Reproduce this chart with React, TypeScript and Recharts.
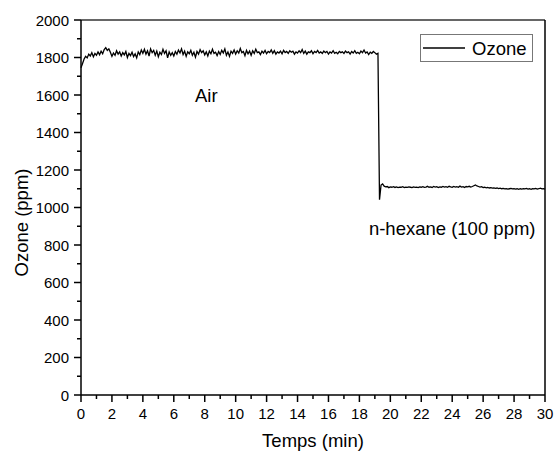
import {
	LineChart,
	Line,
	XAxis,
	YAxis,
	Legend,
	Label,
	ReferenceLine,
	ReferenceDot,
} from 'recharts'

// sampling step of the recorder, minutes
const STEP = 0.1

// ozone under air, from t = 0 to 19.2 min
const airOzone = [
	1745, 1768, 1792, 1806, 1798, 1818, 1808, 1826, 1804, 1822,
	1812, 1830, 1815, 1834, 1820, 1842, 1852, 1838, 1846, 1828,
	1806, 1824, 1812, 1836, 1818, 1830, 1808, 1826, 1814, 1832,
	1800, 1822, 1810, 1828, 1805, 1820, 1798, 1830, 1815, 1840,
	1822, 1844, 1818, 1836, 1808, 1846, 1826, 1838, 1812, 1834,
	1804, 1828, 1816, 1844, 1822, 1836, 1798, 1830, 1812, 1826,
	1808, 1832, 1818, 1840, 1824, 1846, 1816, 1834, 1806, 1830,
	1820, 1838, 1812, 1828, 1802, 1832, 1818, 1842, 1826, 1836,
	1814, 1830, 1808, 1834, 1820, 1844, 1822, 1828, 1810, 1832,
	1816, 1838, 1824, 1846, 1812, 1830, 1806, 1834, 1822, 1840,
	1818, 1836, 1824, 1848, 1826, 1832, 1810, 1838, 1820, 1834,
	1812, 1836, 1822, 1844, 1826, 1830, 1816, 1834, 1824, 1838,
	1820, 1832, 1826, 1840, 1822, 1836, 1818, 1830, 1824, 1834,
	1820, 1838, 1826, 1832, 1822, 1836, 1828, 1834, 1818, 1830,
	1824, 1836, 1826, 1842, 1822, 1834, 1818, 1830, 1826, 1836,
	1820, 1832, 1826, 1838, 1824, 1830, 1822, 1834, 1826, 1832,
	1818, 1830, 1824, 1836, 1822, 1828, 1820, 1832, 1826, 1830,
	1822, 1834, 1826, 1830, 1818, 1832, 1824, 1836, 1822, 1828,
	1820, 1834, 1826, 1840, 1824, 1830, 1816, 1828, 1822, 1832,
	1826, 1818, 1822,
]

// ozone with n-hexane, from t = 19.3 to 30 min
const hexaneOzone = [
	1042, 1120, 1126, 1114, 1110, 1112, 1106, 1110, 1108, 1111,
	1107, 1110, 1106, 1109, 1108, 1111, 1106, 1109, 1107, 1110,
	1108, 1106, 1110, 1107, 1109, 1106, 1110, 1108, 1111, 1107,
	1109, 1113, 1108, 1110, 1107, 1112, 1109, 1111, 1106, 1110,
	1108, 1112, 1109, 1111, 1108, 1113, 1110, 1108, 1112, 1109,
	1111, 1108, 1114, 1109, 1111, 1107, 1112, 1110, 1113, 1109,
	1112, 1116, 1120, 1115, 1112, 1109, 1111, 1106, 1108, 1105,
	1107, 1104, 1106, 1103, 1105, 1102, 1104, 1101, 1103, 1100,
	1102, 1099, 1101, 1098, 1100, 1102, 1099, 1101, 1098, 1100,
	1097, 1100, 1098, 1101, 1099, 1102, 1098, 1100, 1097, 1101,
	1099, 1102, 1098, 1100, 1103, 1099, 1101, 1098,
]

const xMajorTicks = [0, 2, 4, 6, 8, 10, 12, 14, 16, 18, 20, 22, 24, 26, 28, 30]
const xMinorTicks = [1, 3, 5, 7, 9, 11, 13, 15, 17, 19, 21, 23, 25, 27, 29]
const yMajorTicks = [0, 200, 400, 600, 800, 1000, 1200, 1400, 1600, 1800, 2000]
const yMinorTicks = [100, 300, 500, 700, 900, 1100, 1300, 1500, 1700, 1900]

const data = [
	...airOzone.map((ozone, i) => ({ temps: Math.round(i * STEP * 10) / 10, ozone })),
	...hexaneOzone.map((ozone, i) => ({
		temps: Math.round((19.3 + i * STEP) * 10) / 10,
		ozone,
	})),
]

const FONT = '"Liberation Sans", Arial, sans-serif'

const XTick = ({ x, y, payload }: any) => {
	const major = xMajorTicks.includes(payload.value)
	return (
		<g>
			<line x1={x} y1={y} x2={x} y2={y + (major ? 7 : 4)} stroke='#000' strokeWidth={1.5} />
			{major && (
				<text x={x} y={y + 24} textAnchor='middle' fontSize={15} fontFamily={FONT} fill='#000'>
					{payload.value}
				</text>
			)}
		</g>
	)
}

const YTick = ({ x, y, payload }: any) => {
	const major = yMajorTicks.includes(payload.value)
	return (
		<g>
			<line x1={x - (major ? 7 : 4)} y1={y} x2={x} y2={y} stroke='#000' strokeWidth={1.5} />
			{major && (
				<text x={x - 12} y={y + 5.5} textAnchor='end' fontSize={15} fontFamily={FONT} fill='#000'>
					{payload.value}
				</text>
			)}
		</g>
	)
}

const LegendBox = () => (
	<svg width={113} height={28}>
		<rect x={0.5} y={0.5} width={112} height={27} fill='#fff' stroke='#777' />
		<line x1={3} y1={14} x2={45} y2={14} stroke='#000' strokeWidth={1.5} />
		<text x={52} y={20.5} fontSize={18.5} fontFamily={FONT} fill='#000'>
			Ozone
		</text>
	</svg>
)

const App = () => {
	return (
		<div style={{ position: 'absolute', left: 0, top: 0, background: '#fff' }}>
			<LineChart
				width={555}
				height={452}
				data={data}
				margin={{ top: 20, right: 10, bottom: 7, left: 21 }}
			>
				<XAxis
					dataKey='temps'
					type='number'
					domain={[0, 30]}
					ticks={[...xMajorTicks, ...xMinorTicks].sort((a, b) => a - b)}
					interval={0}
					height={50}
					tickSize={0}
					tickMargin={0}
					tickLine={false}
					tick={<XTick />}
					axisLine={{ stroke: '#000', strokeWidth: 1.5 }}
				>
					<Label
						content={({ viewBox }: any) => (
							<text
								x={viewBox.x + viewBox.width / 2}
								y={viewBox.y + 52}
								textAnchor='middle'
								fontSize={18.5}
								fontFamily={FONT}
								fill='#000'
							>
								Temps (min)
							</text>
						)}
					/>
				</XAxis>
				<YAxis
					type='number'
					domain={[0, 2000]}
					ticks={[...yMajorTicks, ...yMinorTicks].sort((a, b) => a - b)}
					interval={0}
					width={60}
					tickSize={0}
					tickMargin={0}
					tickLine={false}
					tick={<YTick />}
					axisLine={{ stroke: '#000', strokeWidth: 1.5 }}
				>
					<Label
						content={({ viewBox }: any) => {
							const cx = viewBox.x
							const cy = viewBox.y + viewBox.height / 2 + 15
							return (
								<text
									x={cx}
									y={cy}
									transform={`rotate(-90 ${cx} ${cy})`}
									textAnchor='middle'
									dominantBaseline='central'
									fontSize={18.5}
									fontFamily={FONT}
									fill='#000'
								>
									Ozone (ppm)
								</text>
							)
						}}
					/>
				</YAxis>
				<ReferenceLine y={2000} stroke='#333' strokeWidth={1.5} />
				<ReferenceLine x={30} stroke='#000' strokeWidth={1.5} />
				<ReferenceDot
					x={8.1}
					y={1600}
					r={0}
					fill='none'
					stroke='none'
					label={{ value: 'Air', position: 'center', fontSize: 18.5, fontFamily: FONT, fill: '#000' }}
				/>
				<ReferenceDot
					x={24}
					y={890}
					r={0}
					fill='none'
					stroke='none'
					label={{
						value: 'n-hexane (100 ppm)',
						position: 'center',
						fontSize: 18.5,
						fontFamily: FONT,
						fill: '#000',
					}}
				/>
				<Legend
					layout='horizontal'
					verticalAlign='middle'
					align='center'
					content={<LegendBox />}
					wrapperStyle={{ left: 420, top: 34, width: 113, height: 28 }}
				/>
				<Line
					type='linear'
					dataKey='ozone'
					name='Ozone'
					stroke='#000'
					strokeWidth={1.3}
					dot={false}
					isAnimationActive={false}
				/>
			</LineChart>
		</div>
	)
}

export default App
